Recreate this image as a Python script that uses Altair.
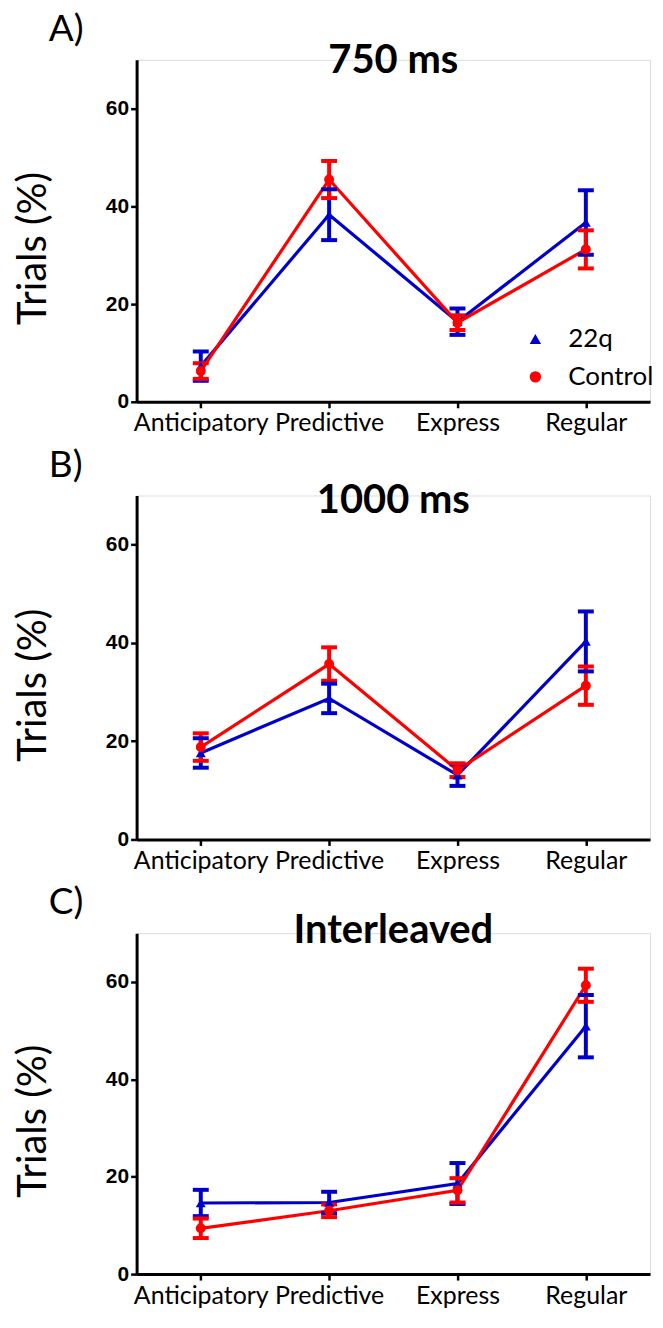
import altair as alt
import pandas as pd

categories = ["Anticipatory", "Predictive", "Express", "Regular"]
groups = ["22q", "Control"]
panel_titles = ["750 ms", "1000 ms", "Interleaved"]
panel_labels = ["A)", "B)", "C)"]

# means and SEM (Trials %)
mean_22q_750 = [7.3, 38.3, 16.4, 36.7]
sem_22q_750 = [3.0, 5.2, 2.7, 6.6]
mean_ctrl_750 = [6.3, 45.5, 16.2, 31.2]
sem_ctrl_750 = [1.6, 3.8, 1.5, 3.9]

mean_22q_1000 = [17.6, 28.7, 13.1, 40.3]
sem_22q_1000 = [3.0, 3.0, 2.2, 6.1]
mean_ctrl_1000 = [18.8, 35.7, 14.1, 31.3]
sem_ctrl_1000 = [2.8, 3.4, 1.4, 3.9]

mean_22q_int = [14.6, 14.7, 18.6, 50.9]
sem_22q_int = [2.7, 2.2, 4.2, 6.4]
mean_ctrl_int = [9.4, 13.0, 17.2, 59.3]
sem_ctrl_int = [2.0, 1.3, 2.5, 3.4]

series = {
    "750 ms": [(mean_22q_750, sem_22q_750), (mean_ctrl_750, sem_ctrl_750)],
    "1000 ms": [(mean_22q_1000, sem_22q_1000), (mean_ctrl_1000, sem_ctrl_1000)],
    "Interleaved": [(mean_22q_int, sem_22q_int), (mean_ctrl_int, sem_ctrl_int)],
}

rows = []
for p in panel_titles:
    for g, (m, s) in zip(groups, series[p]):
        for c, mv, sv in zip(categories, m, s):
            rows.append({"panel": p, "group": g, "category": c, "mean": mv,
                         "lo": mv - sv, "hi": mv + sv})
df = pd.DataFrame(rows)

W = 515
heights = {"750 ms": 343, "1000 ms": 345, "Interleaved": 342}
BLUE, RED = "#0000CC", "#FF0000"
title_dy = {"750 ms": 13, "1000 ms": 18, "Interleaved": 10}


def make_panel(ptitle, plabel, show_legend):
    d = df[df.panel == ptitle]
    H = heights[ptitle]
    xenc = alt.X("category:N", sort=categories,
                 scale=alt.Scale(type="point", padding=0.5),
                 axis=alt.Axis(title=None, labelAngle=0, labelFont="Lato",
                               labelFontSize=25, labelColor="black",
                               labelPadding=3, tickSize=6, tickWidth=2.5,
                               tickColor="black", domainWidth=3,
                               domainColor="black", grid=False))
    yscale = alt.Scale(domain=[0, 70], nice=False)
    yaxis = alt.Axis(title="Trials (%)", values=[0, 20, 40, 60],
                     titleFont="Lato", titleFontSize=40, titleFontWeight="normal",
                     titleColor="black", titleX=-103, titleY=H * 0.55,
                     titleBaseline="middle", titleAlign="center", titleAngle=270,
                     labelFont="Liberation Sans", labelFontWeight="bold",
                     labelFontSize=21, labelColor="black", labelPadding=2,
                     tickSize=6, tickWidth=2.5, tickColor="black",
                     domainWidth=3, domainColor="black", grid=False)
    cscale = alt.Scale(domain=groups, range=[BLUE, RED])
    sscale = alt.Scale(domain=groups, range=["triangle-up", "circle"])
    if show_legend:
        leg = alt.Legend(orient="none", legendX=387, legendY=267, title=None,
                         labelFont="Lato", labelFontSize=26, labelColor="black",
                         symbolSize=130, labelOffset=20, rowPadding=12,
                         padding=0)
    else:
        leg = None

    base = alt.Chart(d)
    lines = base.mark_line(strokeWidth=3.2).encode(
        x=xenc, y=alt.Y("mean:Q", scale=yscale, axis=yaxis),
        stroke=alt.Stroke("group:N", scale=cscale, legend=None),
        detail="group:N")
    rules = base.mark_rule(strokeWidth=4).encode(
        x=xenc, y=alt.Y("lo:Q", scale=yscale), y2="hi:Q",
        stroke=alt.Stroke("group:N", scale=cscale, legend=None))
    cap_lo = base.mark_tick(size=16, thickness=4, opacity=1).encode(
        x=xenc, y=alt.Y("lo:Q", scale=yscale),
        fill=alt.Fill("group:N", scale=cscale, legend=None))
    cap_hi = base.mark_tick(size=16, thickness=4, opacity=1).encode(
        x=xenc, y=alt.Y("hi:Q", scale=yscale),
        fill=alt.Fill("group:N", scale=cscale, legend=None))
    pts = base.mark_point(filled=True, size=100, opacity=1).encode(
        x=xenc, y=alt.Y("mean:Q", scale=yscale),
        color=alt.Color("group:N", scale=cscale, legend=leg),
        shape=alt.Shape("group:N", scale=sscale, legend=leg))

    tdf = pd.DataFrame({"t": [ptitle]})
    ttl = alt.Chart(tdf).mark_text(font="Lato", fontWeight="bold", fontSize=40,
                                   align="center", baseline="alphabetic",
                                   color="black").encode(
        text="t:N", x=alt.value(W / 2), y=alt.value(title_dy[ptitle]))
    ldf = pd.DataFrame({"t": [plabel]})
    lab = alt.Chart(ldf).mark_text(font="Lato", fontSize=37, align="left",
                                   baseline="alphabetic", color="black").encode(
        text="t:N", x=alt.value(-88), y=alt.value(-19))

    return alt.layer(lines, rules, cap_lo, cap_hi, pts, ttl, lab).properties(
        width=W, height=H)


panels = [make_panel(t, l, i == 0)
          for i, (t, l) in enumerate(zip(panel_titles, panel_labels))]

chart = alt.vconcat(*panels, spacing=94, bounds="flush").resolve_legend(
    color="independent", shape="independent").configure_view(
    stroke=None).configure(padding={"left": 5, "top": 0, "right": 0, "bottom": 0})

chart.save("out.html", embed_options={"renderer": "svg", "actions": False})
